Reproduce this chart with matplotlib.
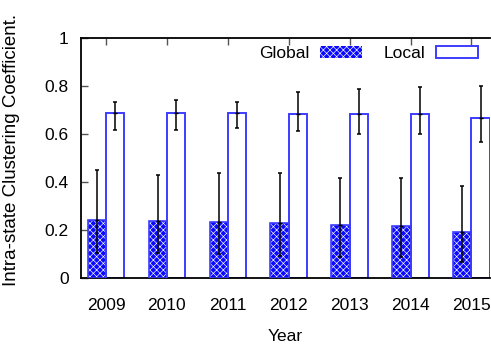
import numpy as np
import matplotlib
matplotlib.use("Agg")
import matplotlib.pyplot as plt
from matplotlib.patches import Patch

years = ["2009", "2010", "2011", "2012", "2013", "2014", "2015"]

global_mean = [0.243, 0.239, 0.235, 0.229, 0.222, 0.218, 0.193]
global_low = [0.104, 0.104, 0.101, 0.094, 0.090, 0.088, 0.069]
global_high = [0.451, 0.429, 0.437, 0.437, 0.417, 0.417, 0.382]

local_mean = [0.687, 0.686, 0.686, 0.685, 0.685, 0.685, 0.668]
local_low = [0.618, 0.615, 0.625, 0.614, 0.601, 0.601, 0.568]
local_high = [0.732, 0.740, 0.732, 0.777, 0.786, 0.796, 0.800]

yticks = [0, 0.2, 0.4, 0.6, 0.8, 1]
ytick_labels = ["0", "0.2", "0.4", "0.6", "0.8", "1"]

plt.rcParams["font.family"] = ["Liberation Sans", "DejaVu Sans"]
plt.rcParams["hatch.linewidth"] = 0.45

fig = plt.figure(figsize=(4.91, 3.48), dpi=100)
ax = fig.add_axes([0.165, 0.2003, 0.833, 0.6907])

x = np.arange(len(years))
w = 0.30
blue = "#0a0aff"
edge_blue = "#3c3cff"
big = 12.5

# Global: patterned fill, then outline
ax.bar(x - w / 2, global_mean, w, color=blue, edgecolor="white", hatch="xxxxx",
       linewidth=0, zorder=2)
ax.bar(x - w / 2, global_mean, w, fill=False, edgecolor=edge_blue, linewidth=1.2,
       zorder=3)
# Local: open bars
ax.bar(x + w / 2, local_mean, w, color="white", edgecolor=edge_blue, linewidth=1.4,
       zorder=2)

gm = np.array(global_mean)
lm = np.array(local_mean)
ax.errorbar(x - w / 2, gm, yerr=[gm - np.array(global_low), np.array(global_high) - gm],
            fmt="_", color="black", ecolor="black", elinewidth=1.1, capsize=1.6,
            capthick=1.1, markersize=3, zorder=4)
ax.errorbar(x + w / 2, lm, yerr=[lm - np.array(local_low), np.array(local_high) - lm],
            fmt="_", color="black", ecolor="black", elinewidth=1.1, capsize=1.6,
            capthick=1.1, markersize=3, zorder=4)

ax.set_xlim(-0.41, 6.305)
ax.set_ylim(0, 1)
ax.set_xticks(x)
ax.set_xticklabels(years, fontsize=big)
ax.set_yticks(yticks)
ax.set_yticklabels(ytick_labels, fontsize=big)
ax.tick_params(axis="both", direction="in", length=5, width=1, top=True,
               right=False, color="#555555")
ax.tick_params(axis="x", pad=14)
ax.tick_params(axis="y", pad=9)
for s in ax.spines.values():
    s.set_linewidth(1.3)
ax.spines["right"].set_visible(False)

ax.set_xlabel("Year", fontsize=big, labelpad=12)
fig.text(12 / 491, 1 - 150 / 348, "Intra-state Clustering Coefficient.",
         fontsize=13.5, rotation=90, ha="center", va="center")

h1 = Patch(facecolor=blue, edgecolor="white", hatch="xxxxx", linewidth=0)
h2 = Patch(facecolor="white", edgecolor=edge_blue, linewidth=1.4)
ax.legend([h1, h2], ["Global", "Local"], ncol=2, loc="upper right",
          bbox_to_anchor=(0.9707, 0.967), borderaxespad=0, borderpad=0,
          frameon=False, markerfirst=False,
          handlelength=2.4, handleheight=0.65, columnspacing=1.25,
          handletextpad=0.63, prop={"size": big})

fig.savefig("out.png", dpi=100)
